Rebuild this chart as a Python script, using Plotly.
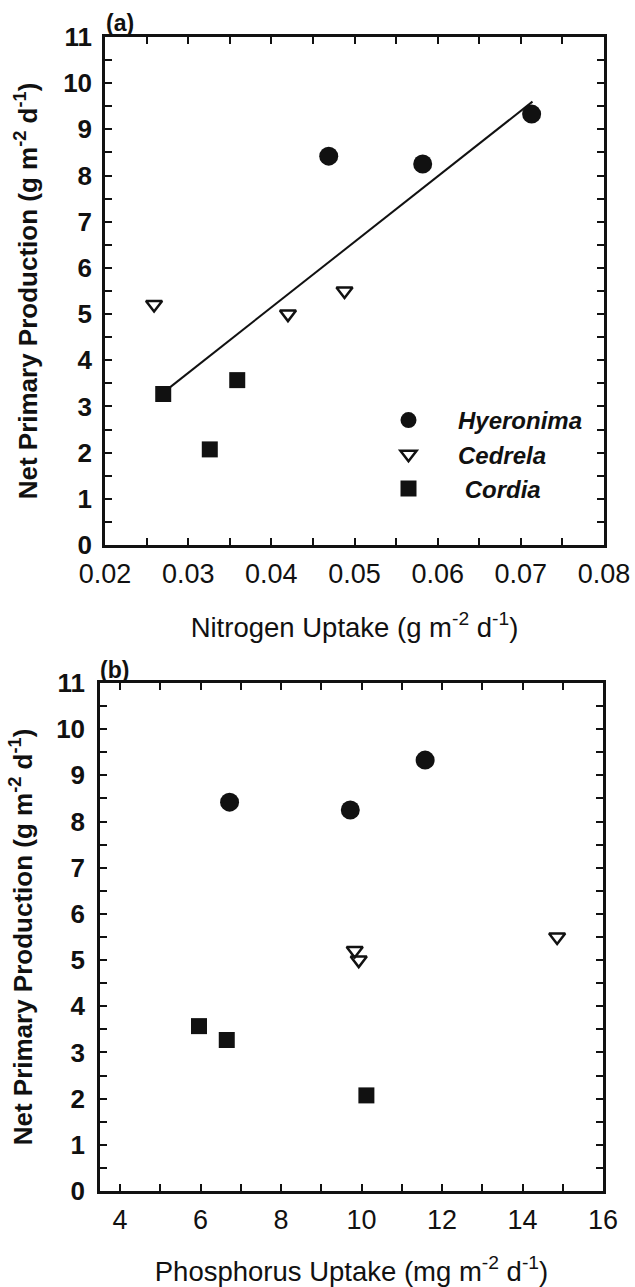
import plotly.graph_objects as go

# ---- data ----
species = ["Hyeronima", "Cedrela", "Cordia"]
npp_hyeronima = [8.42, 8.25, 9.33]
npp_cedrela = [5.21, 5.00, 5.50]
npp_cordia = [3.27, 2.07, 3.57]

n_hyeronima = [0.0469, 0.0582, 0.0713]
n_cedrela = [0.0259, 0.0420, 0.0488]
n_cordia = [0.0270, 0.0326, 0.0359]

p_hyeronima = [6.72, 9.72, 11.58]
p_cedrela = [9.83, 9.93, 14.86]
p_cordia = [6.65, 10.12, 5.96]

fit_x = [0.0270, 0.0714]
fit_y = [3.30, 9.60]

W, H = 635, 1287
FONT = "Liberation Sans, Arial, sans-serif"
INK = "#111111"

markers = {
    "Hyeronima": dict(symbol="circle", size=19, color=INK),
    "Cedrela": dict(symbol="triangle-down-open", size=14, color=INK,
                    line=dict(width=2.5, color=INK)),
    "Cordia": dict(symbol="square", size=16, color=INK),
}
legend_names = {"Hyeronima": "Hyeronima", "Cedrela": "Cedrela", "Cordia": "\u00a0Cordia"}

fig = go.Figure()

# panel (a)
fig.add_trace(go.Scatter(x=fit_x, y=fit_y, mode="lines", line=dict(color=INK, width=2),
                         showlegend=False, xaxis="x", yaxis="y"))
for sp, xs, ys in [("Hyeronima", n_hyeronima, npp_hyeronima),
                   ("Cedrela", n_cedrela, npp_cedrela),
                   ("Cordia", n_cordia, npp_cordia)]:
    fig.add_trace(go.Scatter(x=xs, y=ys, mode="markers", name=legend_names[sp],
                             marker=markers[sp], xaxis="x", yaxis="y"))

# panel (b)
for sp, xs, ys in [("Hyeronima", p_hyeronima, npp_hyeronima),
                   ("Cedrela", p_cedrela, npp_cedrela),
                   ("Cordia", p_cordia, npp_cordia)]:
    fig.add_trace(go.Scatter(x=xs, y=ys, mode="markers", name=sp, showlegend=False,
                             marker=markers[sp], xaxis="x2", yaxis="y2"))


def ax(**kw):
    d = dict(showline=True, linewidth=2.5, linecolor=INK, mirror="ticks",
             ticks="inside", ticklen=7, tickwidth=2, tickcolor=INK,
             showgrid=False, zeroline=False, automargin=False)
    d.update(kw)
    return d


ytitle = "Net Primary Production (g m<sup>-2</sup> d<sup>-1</sup>)"
ytick_font = dict(family=FONT, size=26, color=INK, weight="bold")
xtick_font = dict(family=FONT, size=27, color=INK)
ytitle_font = dict(family=FONT, size=26, color=INK, weight="bold")
xtitle_font = dict(family=FONT, size=27.5, color=INK)

fig.update_layout(
    template="none",
    width=W, height=H, margin=dict(l=0, r=0, t=0, b=0, autoexpand=False),
    paper_bgcolor="white", plot_bgcolor="white",
    xaxis=ax(domain=[105 / W, 604 / W], anchor="y", range=[0.02, 0.08], dtick=0.01,
             tick0=0.02, tickformat=".2f",
             minor=dict(dtick=0.005, ticks="inside", ticklen=7, tickwidth=2, tickcolor=INK),
             tickfont=xtick_font, ticklabelstandoff=3,
             title=dict(text="Nitrogen Uptake (g m<sup>-2</sup> d<sup>-1</sup>)",
                        font=xtitle_font, standoff=30)),
    yaxis=ax(domain=[(H - 545) / H, (H - 37) / H], anchor="x", range=[0, 11], dtick=1,
             minor=dict(dtick=0.5, ticks="inside", ticklen=7, tickwidth=2, tickcolor=INK),
             tickfont=ytick_font, ticklabelstandoff=5,
             title=dict(text=ytitle, font=ytitle_font, standoff=19)),
    xaxis2=ax(domain=[100 / W, 603 / W], anchor="y2", range=[3.5, 16], dtick=2, tick0=0,
              minor=dict(dtick=1, ticks="inside", ticklen=7, tickwidth=2, tickcolor=INK),
              tickfont=xtick_font, ticklabelstandoff=3,
              title=dict(text="Phosphorus Uptake (mg m<sup>-2</sup> d<sup>-1</sup>)",
                         font=xtitle_font, standoff=30)),
    yaxis2=ax(domain=[(H - 1191) / H, (H - 683) / H], anchor="x2", range=[0, 11], dtick=1,
              minor=dict(dtick=0.5, ticks="inside", ticklen=7, tickwidth=2, tickcolor=INK),
              tickfont=ytick_font, ticklabelstandoff=7,
              title=dict(text=ytitle, font=ytitle_font, standoff=17)),
    showlegend=True,
    legend=dict(x=359 / W, y=1 - 398 / H, xanchor="left", yanchor="top",
                bgcolor="rgba(0,0,0,0)", itemwidth=89, borderwidth=0,
                font=dict(family=FONT, size=24, color=INK, style="italic", weight="bold")),
    annotations=[
        dict(text="(a)", xref="paper", yref="paper", x=104 / W, y=1 - 8 / H,
             xanchor="left", yanchor="top", showarrow=False,
             font=dict(family=FONT, size=23, color=INK, weight="bold")),
        dict(text="(b)", xref="paper", yref="paper", x=98 / W, y=1 - 655 / H,
             xanchor="left", yanchor="top", showarrow=False,
             font=dict(family=FONT, size=23, color=INK, weight="bold")),
    ],
)

fig.write_html("out.html", config={"displayModeBar": False},
               post_script="document.body.style.margin='0px';")
